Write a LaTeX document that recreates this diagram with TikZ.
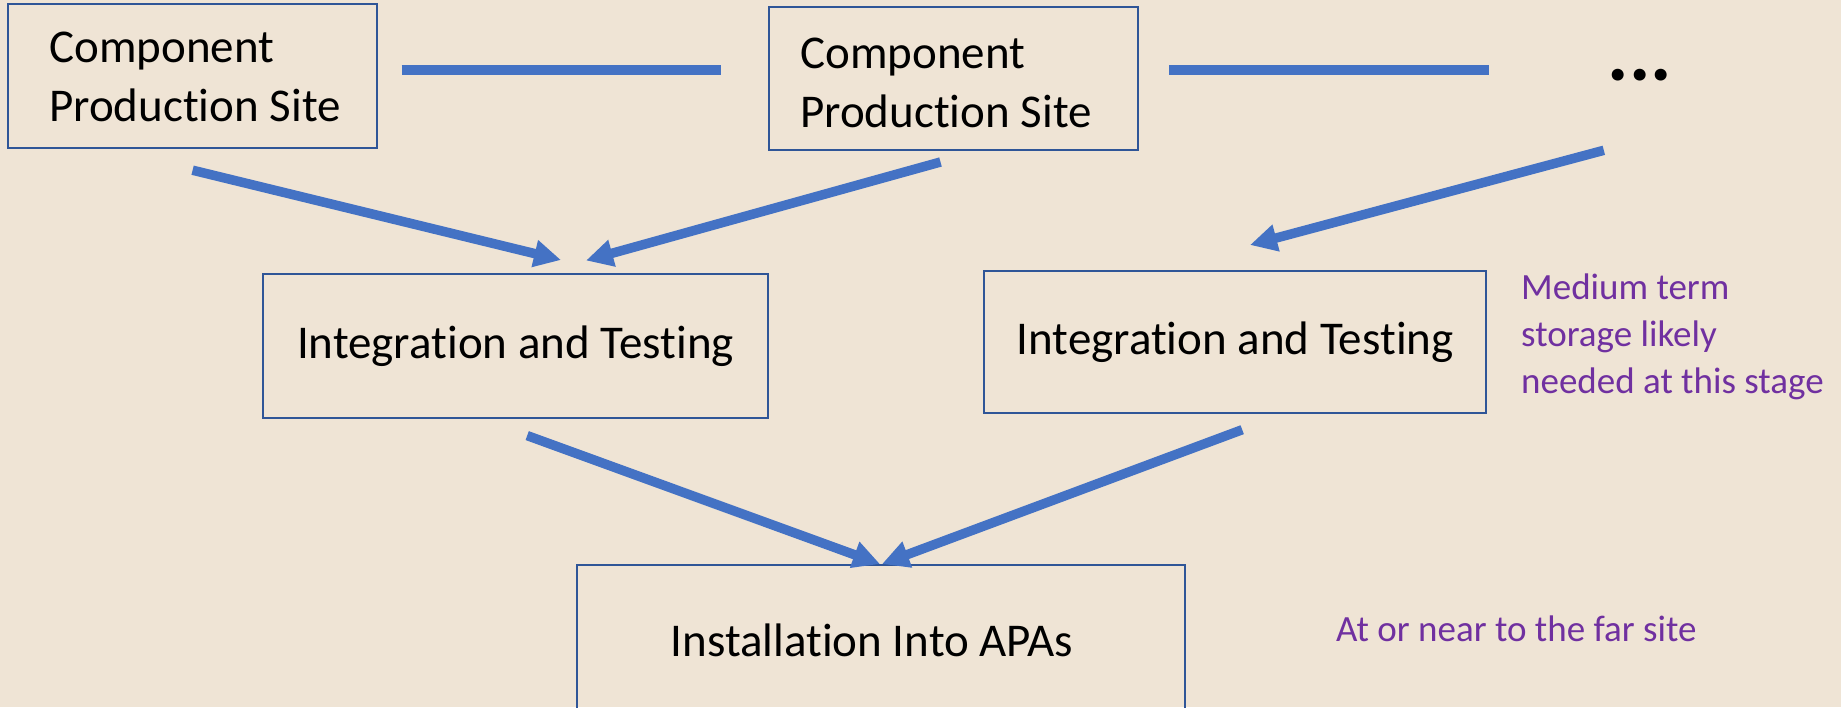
\documentclass[tikz,border=0pt]{standalone}
\usepackage{fontspec}
\setmainfont{Carlito}[Ligatures=NoCommon]
\usetikzlibrary{arrows.meta}
\definecolor{bgc}{HTML}{EFE4D5}
\definecolor{boxc}{HTML}{2F5597}
\definecolor{arrc}{HTML}{4472C4}
\definecolor{notec}{HTML}{7030A0}
\tikzset{
  boxnode/.style={draw=boxc, line width=2pt, inner sep=0pt, fill=none},
  bigtext/.style={font=\fontsize{47}{59}\selectfont, inner sep=0pt},
  notetext/.style={font=\fontsize{37}{47}\selectfont, text=notec, inner sep=0pt},
  conn/.style={draw=arrc, line width=9.5pt},
  arr/.style={conn, -{Triangle[length=27pt,width=26pt]}},
}
\begin{document}
\begin{tikzpicture}[x=1pt,y=-1pt]
\fill[bgc] (0,0) rectangle (1841,707);
\useasboundingbox (0,0) rectangle (1841,707);
\clip (0,0) rectangle (1841,707);
% top row
\node[boxnode, minimum width=369pt, minimum height=144pt] (b1) at (192.5,75.7) {};
\node[bigtext, anchor=west, align=left] (t1) at (49,77) {Component\\Production Site};
\node[boxnode, minimum width=369pt, minimum height=143pt] (b2) at (953.4,78.7) {};
\node[bigtext, anchor=west, align=left] (t2) at (800,83) {Component\\Production Site};
\node[font=\fontsize{80}{84}\selectfont\bfseries, inner sep=0pt, anchor=base] (dots) at (1640,80) {...};
% middle row
\node[boxnode, bigtext, minimum width=505pt, minimum height=144pt] (b3) at (515.5,345.8) {Integration and Testing};
\node[boxnode, bigtext, minimum width=502pt, minimum height=142pt] (b4) at (1235.2,342.3) {Integration and Testing};
\node[notetext, anchor=north west, align=left] (n1) at (1521,274) {Medium term\\storage likely\\needed at this stage};
% bottom
\node[boxnode, minimum width=608pt, minimum height=150pt] (b5) at (880.6,639.7) {};
\node[bigtext] (t5) at (872,640) {Installation Into APAs};
\node[notetext, anchor=west] (n2) at (1336,629) {At or near to the far site};
% connector coordinates
\coordinate (l1s) at (401.5,70.2);
\coordinate (l1e) at (720.9,70.2);
\coordinate (l2s) at (1169.4,70.2);
\coordinate (l2e) at (1488.8,70.2);
\coordinate (a1s) at (192.6,170.2);
\coordinate (a1e) at (561,260);
\coordinate (a2s) at (940.5,162);
\coordinate (a2e) at (586,260.5);
\coordinate (a3s) at (1603.8,150.3);
\coordinate (a3e) at (1250,245);
\coordinate (a4s) at (527.2,435.6);
\coordinate (a4e) at (880,564);
\coordinate (a5s) at (1242.2,429.7);
\coordinate (a5e) at (882,564);
\draw[conn] (l1s) -- (l1e);
\draw[conn] (l2s) -- (l2e);
\draw[arr] (a1s) -- (a1e);
\draw[arr] (a2s) -- (a2e);
\draw[arr] (a3s) -- (a3e);
\draw[arr] (a4s) -- (a4e);
\draw[arr] (a5s) -- (a5e);
\end{tikzpicture}
\end{document}
